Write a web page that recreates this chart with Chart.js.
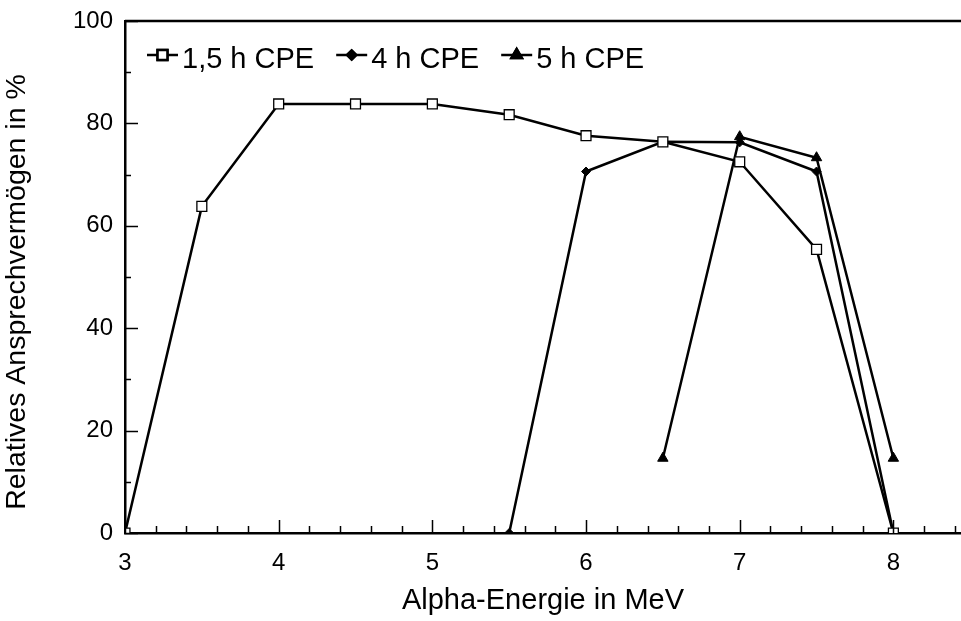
<!DOCTYPE html>
<html>
<head>
<meta charset="utf-8">
<script src="https://cdn.jsdelivr.net/npm/chart.js@4.4.1/dist/chart.umd.min.js"></script>
<style>
  html, body { margin: 0; padding: 0; background: #fff; }
  #wrap { width: 961px; height: 621px; }
</style>
</head>
<body>
<div id="wrap"><canvas id="mycanvas" width="961" height="621"></canvas></div>
<script>
// values
var energy15 = [3, 3.5, 4, 4.5, 5, 5.5, 6, 6.5, 7, 7.5, 8];
var cpe15    = [0, 63.8, 83.8, 83.8, 83.8, 81.7, 77.6, 76.4, 72.5, 55.4, 0];
var energy4  = [5.5, 6, 6.5, 7, 7.5, 8];
var cpe4     = [0, 70.6, 76.4, 76.3, 70.6, 0];
var energy5  = [6.5, 7, 7.5, 8];
var cpe5     = [14.6, 77.4, 73.3, 14.6];
var seriesNames = ['1,5 h CPE', '4 h CPE', '5 h CPE'];
var xTicks = [3, 4, 5, 6, 7, 8];
var yTicks = [0, 20, 40, 60, 80, 100];

var FONT = '"Liberation Sans", Arial, Helvetica, sans-serif';

function pairs(xs, ys) {
	var out = [];
	for (var i in xs) {
		out.push({x: xs[i], y: ys[i]});
	}
	return out;
}

// inside tick marks, top frame line, y title
var framePlugin = {
	id: 'frame',
	afterDraw: function(chart) {
		var ctx = chart.ctx;
		var a = chart.chartArea;
		var xs = chart.scales.x, ys = chart.scales.y;
		ctx.save();
		ctx.strokeStyle = '#000';
		ctx.lineWidth = 1.5;
		ctx.beginPath();
		for (var k = 0; k <= 27; k++) {
			var v = 3 + k * 0.2;
			var px = Math.round(xs.getPixelForValue(v)) + 0.5;
			var len = (k % 5 === 0) ? 13 : 7;
			ctx.moveTo(px, a.bottom);
			ctx.lineTo(px, a.bottom - len);
		}
		for (var j = 0; j <= 10; j++) {
			var py = Math.round(ys.getPixelForValue(j * 10)) + 0.5;
			var l2 = (j % 2 === 0) ? 13 : 6;
			ctx.moveTo(a.left, py);
			ctx.lineTo(a.left + l2, py);
		}
		ctx.stroke();
		ctx.lineWidth = 2.5;
		ctx.beginPath();
		ctx.moveTo(a.left, a.top);
		ctx.lineTo(a.right, a.top);
		ctx.stroke();

		// y axis title
		ctx.translate(17, 292);
		ctx.rotate(-Math.PI / 2);
		ctx.font = '28.5px ' + FONT;
		ctx.fillStyle = '#000';
		ctx.textAlign = 'center';
		ctx.textBaseline = 'middle';
		ctx.fillText('Relatives Ansprechvermögen in %', 0, 0);
		ctx.restore();
	}
};

// legend drawn inside the plot, line + marker + text
var legendPlugin = {
	id: 'inlegend',
	afterDraw: function(chart) {
		var ctx = chart.ctx;
		var x = 147, yLine = 55, yText = 68;
		ctx.save();
		ctx.font = '29px ' + FONT;
		ctx.fillStyle = '#000';
		ctx.textBaseline = 'alphabetic';
		chart.data.datasets.forEach(function(ds) {
			ctx.strokeStyle = '#000';
			ctx.lineWidth = 2.5;
			ctx.beginPath();
			ctx.moveTo(x, yLine);
			ctx.lineTo(x + 31, yLine);
			ctx.stroke();
			Chart.helpers.drawPoint(ctx, {
				pointStyle: ds.pointStyle,
				radius: ds.pointRadius,
				rotation: 0,
				borderWidth: ds.pointBorderWidth
			}, x + 15.5, yLine);
			ctx.fillStyle = ds.pointBackgroundColor;
			ctx.strokeStyle = '#000';
			ctx.fill();
			ctx.stroke();
			ctx.fillStyle = '#000';
			ctx.fillText(ds.label, x + 35, yText);
			x += 35 + ctx.measureText(ds.label).width + 22;
		});
		ctx.restore();
	}
};

function series(label, data, style, radius, fill, bw) {
	return {
		label: label,
		data: data,
		borderColor: '#000',
		borderWidth: 2.5,
		tension: 0,
		fill: false,
		pointStyle: style,
		pointRadius: radius,
		pointHoverRadius: radius,
		pointBackgroundColor: fill,
		pointBorderColor: '#000',
		pointBorderWidth: bw
	};
}

var chartdata = {
	datasets: [
		series(seriesNames[0], pairs(energy15, cpe15), 'rect', 7, '#fff', 1.3),
		series(seriesNames[1], pairs(energy4, cpe4), 'rectRot', 4.5, '#000', 1),
		series(seriesNames[2], pairs(energy5, cpe5), 'triangle', 6, '#000', 1)
	]
};

var ctx = document.getElementById('mycanvas');

var lineGraph = new Chart(ctx, {
	type: 'line',
	data: chartdata,
	plugins: [framePlugin, legendPlugin],
	options: {
		responsive: false,
		animation: false,
		devicePixelRatio: 1,
		layout: { autoPadding: false, padding: { top: 21, right: 0, left: 0, bottom: 0 } },
		plugins: {
			legend: { display: false },
			tooltip: { enabled: false }
		},
		scales: {
			x: {
				type: 'linear',
				min: 3,
				max: 8.44,
				grid: { display: false },
				border: { display: true, color: '#000', width: 2.5 },
				afterBuildTicks: function(scale) {
					scale.ticks = xTicks.map(function(v) { return {value: v}; });
				},
				afterFit: function(scale) { scale.height = 88; },
				ticks: {
					color: '#000',
					font: { family: FONT, size: 24 },
					padding: 8,
					maxRotation: 0
				},
				title: {
					display: true,
					text: 'Alpha-Energie in MeV',
					color: '#000',
					font: { family: FONT, size: 29 },
					padding: { top: 0, bottom: 3 }
				}
			},
			y: {
				min: 0,
				max: 100,
				grid: { display: false },
				border: { display: true, color: '#000', width: 2.5 },
				afterBuildTicks: function(scale) {
					scale.ticks = yTicks.map(function(v) { return {value: v}; });
				},
				afterFit: function(scale) { scale.width = 125; },
				ticks: {
					color: '#000',
					font: { family: FONT, size: 24 },
					padding: 4
				},
				title: { display: false }
			}
		}
	}
});
</script>
</body>
</html>
